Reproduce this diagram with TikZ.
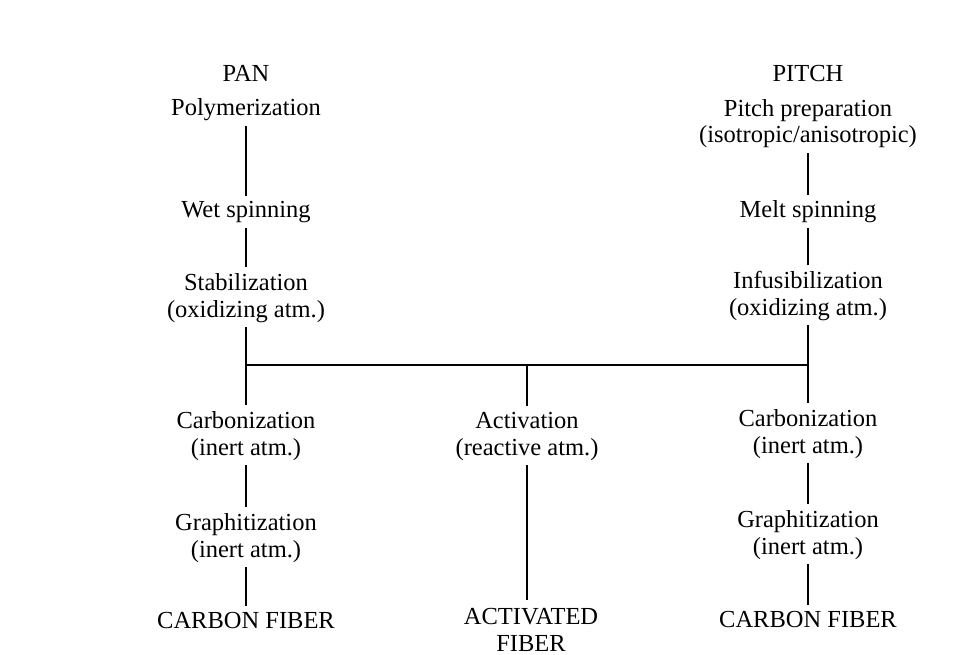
\documentclass[tikz,border=0pt]{standalone}
\usepackage{fontspec}
\setmainfont{Liberation Serif}
\begin{document}
\begin{tikzpicture}[x=1pt,y=-1pt,
  lbl/.style={inner sep=0pt,anchor=base,align=center,font=\fontsize{24.5}{26.5}\selectfont},
  conn/.style={line width=1.5pt,shorten <=5pt,shorten >=6pt}]
\useasboundingbox (0,0) rectangle (961,655);
% left column (PAN)
\node[lbl] (pan)  at (246,82)  {PAN};
\node[lbl] (poly) at (246,116) {Polymerization};
\node[lbl] (wet)  at (246,218) {Wet spinning};
\node[lbl] (stab) at (246,317) {Stabilization\\(oxidizing atm.)};
\node[lbl] (carbL) at (246,455) {Carbonization\\(inert atm.)};
\node[lbl] (graphL) at (246,557) {Graphitization\\(inert atm.)};
\node[lbl] (cfL) at (246,628) {CARBON FIBER};
% right column (PITCH)
\node[lbl] (pitch) at (808,82) {PITCH};
\node[lbl] (prep) at (808,143) {Pitch preparation\\(isotropic/anisotropic)};
\node[lbl] (melt) at (808,218) {Melt spinning};
\node[lbl] (infus) at (808,315) {Infusibilization\\(oxidizing atm.)};
\node[lbl] (carbR) at (808,453) {Carbonization\\(inert atm.)};
\node[lbl] (graphR) at (808,554) {Graphitization\\(inert atm.)};
\node[lbl] (cfR) at (808,627) {CARBON FIBER};
% middle column
\node[lbl] (act) at (527,455) {Activation\\(reactive atm.)};
\node[lbl] (actf) at (531,651) {ACTIVATED\\FIBER};
% junction
\coordinate (jL) at (246,365);
\coordinate (jR) at (808,365);
\coordinate (jM) at (527,365);
\coordinate (aend) at (527,600);
% connectors
\draw[conn] (poly) -- (wet);
\draw[conn] (wet) -- (stab);
\draw[conn] (stab) -- (carbL);
\draw[conn] (carbL) -- (graphL);
\draw[conn] (graphL) -- (cfL);
\draw[conn] (prep) -- (melt);
\draw[conn] (melt) -- (infus);
\draw[conn] (infus) -- (carbR);
\draw[conn] (carbR) -- (graphR);
\draw[conn] (graphR) -- (cfR);
\draw[line width=1.5pt] (jL) -- (jR);
\draw[line width=1.5pt,shorten >=6pt] (jM) -- (act);
\draw[line width=1.5pt,shorten <=5pt] (act.south) -- (aend);
\end{tikzpicture}
\end{document}
